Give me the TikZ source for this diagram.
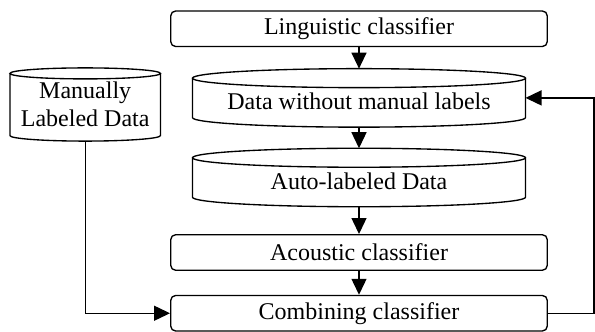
\documentclass[tikz,border=0pt]{standalone}
\usepackage{fontspec}
\setmainfont{Liberation Serif}
\usetikzlibrary{arrows.meta,positioning,calc}

\begin{document}
\begin{tikzpicture}[x=1pt, y=1pt, on grid, line width=1.35pt,
  font=\fontsize{24}{27.6}\selectfont, >={Triangle[length=16pt,width=15pt]},
  box/.style={draw, rounded corners=5pt, minimum width=376.6pt, minimum height=35.6pt},
  db/.style={outer sep=0pt, minimum width=333pt, minimum height=58.5pt},
  dbtext/.style={db, text height=24pt, text depth=0pt}]
\useasboundingbox (0,0) rectangle (595,332);
\node [ box ] (ling) at (359,303.25) {Linguistic classifier};
\node [ dbtext ] (nolab) [ below = 69.15pt of ling ] {Data without manual labels};
\node [ dbtext ] (auto) [ below = 79.6pt of nolab ] {Auto-labeled Data};
\node [ box ] (acou) [ below = 75pt of auto ] {Acoustic classifier};
\node [ box ] (comb) [ below = 60.75pt of acou ] {Combining classifier};
\node [ db, align=center, minimum width=150.5pt, minimum height=73.2pt ] (manual)
  [ below left = 6.6pt and 273.8pt of nolab ] {Manually\\Labeled Data};
\foreach \nm/\ry in {manual/5.5pt, nolab/9.5pt, auto/9.5pt}
  \draw let \p1 = ($(\nm.north east)-(\nm.north west)$) in
    ([yshift=-\ry]\nm.north west) -- ([yshift=\ry]\nm.south west)
    arc [start angle=180, end angle=360, x radius=0.5*\x1, y radius=\ry]
    -- ([yshift=-\ry]\nm.north east)
    ([yshift=-\ry]\nm.north) ellipse [x radius=0.5*\x1, y radius=\ry];
\path [->]
(ling) edge (nolab)
(nolab) edge (auto)
(auto) edge (acou)
(acou) edge (comb);
\draw [->] (manual.south) |- (comb.west);
\draw [->] (comb.east) -- ++(46,0) |- (nolab.east);
\end{tikzpicture}
\end{document}
